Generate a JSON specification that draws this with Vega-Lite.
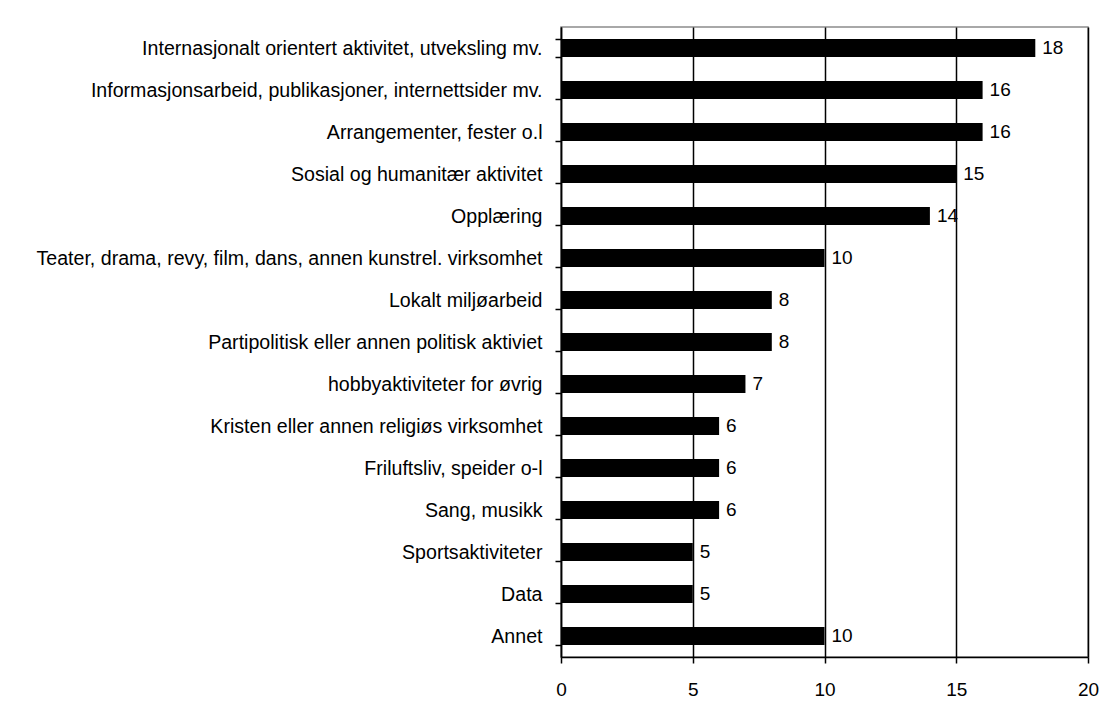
{
  "$schema": "https://vega.github.io/schema/vega-lite/v6.json",
  "width": 527,
  "height": 630,
  "autosize": {"type": "none"},
  "padding": {"left": 561, "top": 27, "right": 22, "bottom": 65},
  "background": "white",
  "config": {
    "font": "Liberation Sans",
    "view": {"stroke": "#8c8c8c", "strokeWidth": 1.5}
  },
  "data": {
    "values": [
      {"aktivitet": "Internasjonalt orientert aktivitet, utveksling mv.", "verdi": 18},
      {"aktivitet": "Informasjonsarbeid, publikasjoner, internettsider mv.", "verdi": 16},
      {"aktivitet": "Arrangementer, fester o.l", "verdi": 16},
      {"aktivitet": "Sosial og humanitær aktivitet", "verdi": 15},
      {"aktivitet": "Opplæring", "verdi": 14},
      {"aktivitet": "Teater, drama, revy, film, dans, annen kunstrel. virksomhet", "verdi": 10},
      {"aktivitet": "Lokalt miljøarbeid", "verdi": 8},
      {"aktivitet": "Partipolitisk eller annen politisk aktiviet", "verdi": 8},
      {"aktivitet": "hobbyaktiviteter for øvrig", "verdi": 7},
      {"aktivitet": "Kristen eller annen religiøs virksomhet", "verdi": 6},
      {"aktivitet": "Friluftsliv, speider o-l", "verdi": 6},
      {"aktivitet": "Sang, musikk", "verdi": 6},
      {"aktivitet": "Sportsaktiviteter", "verdi": 5},
      {"aktivitet": "Data", "verdi": 5},
      {"aktivitet": "Annet", "verdi": 10}
    ]
  },
  "encoding": {
    "y": {
      "field": "aktivitet",
      "type": "nominal",
      "sort": null,
      "scale": {"paddingInner": 0.57, "paddingOuter": 0.285},
      "axis": {
        "title": null,
        "tickBand": "extent",
        "tickSize": 6,
        "tickColor": "black",
        "tickWidth": 1.5,
        "domainColor": "black",
        "domainWidth": 1.5,
        "labelPadding": 13,
        "labelFontSize": 19.6,
        "labelColor": "black",
        "labelLimit": 700
      }
    },
    "x": {
      "field": "verdi",
      "type": "quantitative",
      "scale": {"domain": [0, 20], "nice": false},
      "axis": {
        "title": null,
        "values": [0, 5, 10, 15, 20],
        "grid": true,
        "gridColor": "black",
        "gridWidth": 1.5,
        "gridOpacity": 1,
        "tickSize": 6,
        "tickColor": "black",
        "tickWidth": 1.5,
        "domainColor": "black",
        "domainWidth": 1.5,
        "labelPadding": 17,
        "labelFontSize": 19,
        "labelColor": "black",
        "labelFlush": false
      }
    }
  },
  "layer": [
    {"mark": {"type": "bar", "color": "black"}},
    {
      "mark": {"type": "text", "align": "left", "baseline": "middle", "dx": 7, "fontSize": 19, "color": "black"},
      "encoding": {"text": {"field": "verdi", "type": "quantitative"}}
    }
  ]
}
